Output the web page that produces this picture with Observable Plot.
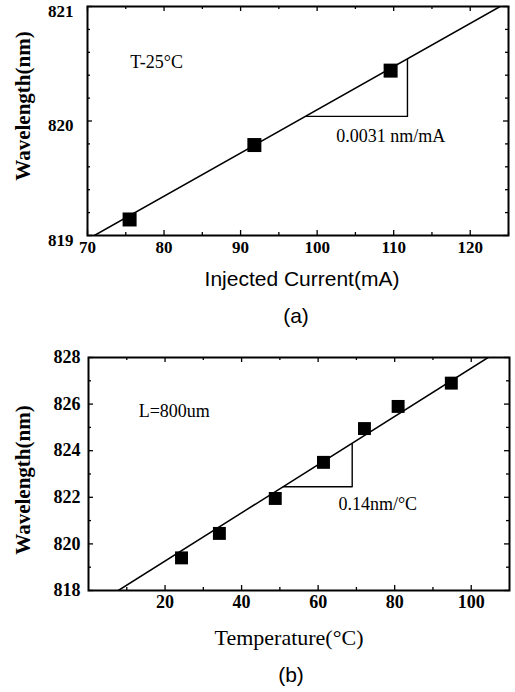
<!DOCTYPE html>
<html><head><meta charset="utf-8">
<script src="https://cdn.jsdelivr.net/npm/d3@7"></script>
<script src="https://cdn.jsdelivr.net/npm/@observablehq/plot@0.6"></script>
<style>body{margin:0;background:#fff} svg{display:block}</style>
</head><body><div id="c"></div>
<script>
// ---- Panel (a): wavelength vs injected current ----
const currentA = [75.5, 91.8, 109.6];
const wavelengthA = [819.14, 819.79, 820.44];
const fitCurrentA = [70.9, 123.9];
const fitWavelengthA = [819, 821];
const slopeCurrentA = [98.6, 111.8, 111.8];
const slopeWavelengthA = [820.04, 820.04, 820.54];
const xMajorA = [70, 80, 90, 100, 110, 120];
const xMinorA = [75, 85, 95, 105, 115, 125];
const yMajorA = [819, 820, 821];
const yMinorA = [819.2, 819.4, 819.6, 819.8, 820.2, 820.4, 820.6, 820.8];
const notesA = [
  {x: 75.6, y: 820.51, text: "T-25°C"},
  {x: 102.5, y: 819.87, text: "0.0031 nm/mA"}
];

// ---- Panel (b): wavelength vs temperature ----
const tempB = [24.3, 34.2, 48.8, 61.4, 72.1, 80.9, 94.8];
const wavelengthB = [819.4, 820.45, 821.95, 823.5, 824.95, 825.9, 826.9];
const fitTempB = [7.8, 104.4];
const fitWavelengthB = [818, 828];
const slopeTempB = [50.9, 68.9, 68.9];
const slopeWavelengthB = [822.45, 822.45, 824.3];
const xMajorB = [20, 40, 60, 80, 100];
const xMinorB = [10, 30, 50, 70, 90];
const yMajorB = [818, 820, 822, 824, 826, 828];
const yMinorB = [819, 821, 823, 825, 827];
const notesB = [
  {x: 13.1, y: 825.68, text: "L=800um"},
  {x: 65.3, y: 821.69, text: "0.14nm/°C"}
];

const SERIF = "Liberation Serif, Times New Roman, serif";
const SANS = "Liberation Sans, Arial, sans-serif";
const intFmt = d3.format("d");

function zip(xs, ys) { return xs.map((x, i) => ({x, y: ys[i]})); }

function panel(cfg) {
  const W = cfg.width - cfg.ml - cfg.mr;
  const H = cfg.height - cfg.mt - cfg.mb;
  const ticksX = (vals, len) => [
    Plot.ruleX(vals, {insetTop: H - len, stroke: "black", strokeWidth: 1.3}),
    Plot.ruleX(vals, {insetBottom: H - len, stroke: "black", strokeWidth: 1.3})
  ];
  const ticksY = (vals, len) => [
    Plot.ruleY(vals, {insetRight: W - len, stroke: "black", strokeWidth: 1.3}),
    Plot.ruleY(vals, {insetLeft: W - len, stroke: "black", strokeWidth: 1.3})
  ];
  return Plot.plot({
    width: cfg.width, height: cfg.height,
    marginLeft: cfg.ml, marginRight: cfg.mr, marginTop: cfg.mt, marginBottom: cfg.mb,
    style: {fontFamily: SERIF, color: "black", background: "white"},
    x: {domain: cfg.xDomain},
    y: {domain: cfg.yDomain},
    marks: [
      ...ticksX(cfg.xMajor, 5), ...ticksX(cfg.xMinor, 3),
      ...ticksY(cfg.yMajor, 5), ...ticksY(cfg.yMinor, 3),
      Plot.axisX(cfg.xMajor, {anchor: "bottom", tickSize: 0, tickPadding: 5, label: null, tickFormat: intFmt,
        fontSize: cfg.tickFont, fontFamily: SERIF, fontWeight: "bold"}),
      Plot.axisY(cfg.yMajor, {anchor: "left", tickSize: 0, tickPadding: cfg.yPad, label: null, tickFormat: intFmt,
        dy: cfg.yTickDy, fontSize: cfg.tickFont, fontFamily: SERIF, fontWeight: "bold"}),
      Plot.line(zip(cfg.fitX, cfg.fitY), {x: "x", y: "y", stroke: "black", strokeWidth: 1.5, clip: true}),
      Plot.line(zip(cfg.slopeX, cfg.slopeY), {x: "x", y: "y", stroke: "black", strokeWidth: 1.4}),
      Plot.dot(zip(cfg.px, cfg.py), {x: "x", y: "y", symbol: "square", r: cfg.r, fill: "black", stroke: "none"}),
      Plot.text(cfg.notes, {x: "x", y: "y", text: "text", textAnchor: "start", fontSize: 18, fontFamily: SERIF}),
      Plot.frame({stroke: "black", strokeWidth: 2}),
      Plot.text([cfg.xLabel], {frameAnchor: "bottom", dy: cfg.xLabelDy, dx: cfg.xLabelDx,
        textAnchor: "middle", lineAnchor: "middle",
        fontSize: cfg.xLabelFont, fontFamily: cfg.xLabelFamily}),
      Plot.text([cfg.tag], {frameAnchor: "bottom", dy: cfg.tagDy, dx: cfg.tagDx,
        textAnchor: "middle", lineAnchor: "middle", fontSize: 21, fontFamily: SANS}),
      Plot.text([cfg.yLabel], {frameAnchor: "left", dx: cfg.yLabelDx, dy: cfg.yLabelDy, rotate: -90,
        textAnchor: "middle", lineAnchor: "middle",
        fontSize: 21, fontWeight: "bold", fontFamily: SERIF})
    ]
  });
}

const c = document.getElementById("c");
c.append(panel({
  width: 515, height: 340, ml: 87, mr: 7, mt: 6, mb: 105,
  xDomain: [70, 125], yDomain: [819, 821],
  xMajor: xMajorA, xMinor: xMinorA, yMajor: yMajorA, yMinor: yMinorA,
  tickFont: 17, yPad: 14, yTickDy: 5,
  fitX: fitCurrentA, fitY: fitWavelengthA,
  slopeX: slopeCurrentA, slopeY: slopeWavelengthA,
  px: currentA, py: wavelengthA, r: 7.9,
  notes: notesA,
  xLabel: "Injected Current(mA)", xLabelDy: 44, xLabelDx: 4, xLabelFont: 21, xLabelFamily: SANS,
  tag: "(a)", tagDy: 81, tagDx: -2,
  yLabel: "Wavelength(nm)", yLabelDx: -64, yLabelDy: -15
}));
c.append(panel({
  width: 515, height: 352, ml: 88, mr: 6, mt: 17, mb: 102,
  xDomain: [0, 110], yDomain: [818, 828],
  xMajor: xMajorB, xMinor: xMinorB, yMajor: yMajorB, yMinor: yMinorB,
  tickFont: 18, yPad: 8, yTickDy: 0,
  fitX: fitTempB, fitY: fitWavelengthB,
  slopeX: slopeTempB, slopeY: slopeWavelengthB,
  px: tempB, py: wavelengthB, r: 7.3,
  notes: notesB,
  xLabel: "Temperature(°C)", xLabelDy: 47, xLabelDx: -10, xLabelFont: 22, xLabelFamily: SERIF,
  tag: "(b)", tagDy: 85, tagDx: -8,
  yLabel: "Wavelength(nm)", yLabelDx: -65, yLabelDy: 6
}));
</script></body></html>
